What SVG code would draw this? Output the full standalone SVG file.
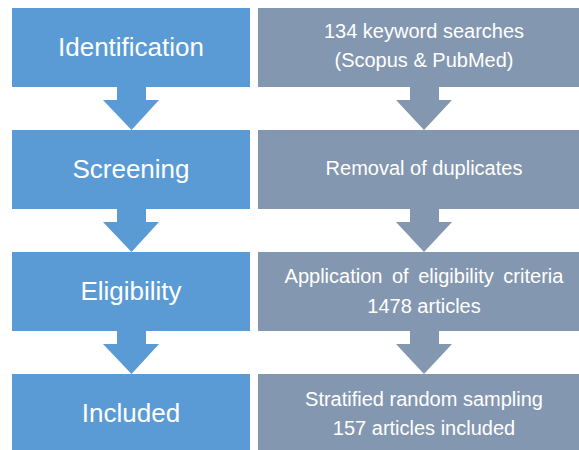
<svg xmlns="http://www.w3.org/2000/svg" width="579" height="450" viewBox="0 0 579 450">
<style>
.stage{fill:#5B9BD5}
.step{fill:#8497B0}
.lt{font-family:"Liberation Sans",Arial,sans-serif;font-size:26px;fill:#FFFFFF;text-anchor:middle}
.rt{font-family:"Liberation Sans",Arial,sans-serif;font-size:20px;fill:#FFFFFF;text-anchor:middle}
</style>
<rect width="579" height="450" fill="#FFFFFF"/>
<g id="connectors">
<polygon class="stage" points="117,87 146,87 146,100 159,100 131.5,130 103,100 117,100"/>
<polygon class="stage" points="117,209 146,209 146,222 159,222 131.5,252 103,222 117,222"/>
<polygon class="stage" points="117,331 146,331 146,344 159,344 131.5,374 103,344 117,344"/>
<polygon class="step" points="410,87 439,87 439,100 452,100 424,130 396,100 410,100"/>
<polygon class="step" points="410,209 439,209 439,222 452,222 424,252 396,222 410,222"/>
<polygon class="step" points="410,331 439,331 439,344 452,344 424,374 396,344 410,344"/>
</g>
<g id="identification">
<rect class="stage" x="12" y="8" width="238" height="79"/>
<text class="lt" x="131" y="56">Identification</text>
</g>
<g id="screening">
<rect class="stage" x="12" y="130" width="238" height="79"/>
<text class="lt" x="131" y="178">Screening</text>
</g>
<g id="eligibility">
<rect class="stage" x="12" y="252" width="238" height="79"/>
<text class="lt" x="131" y="300">Eligibility</text>
</g>
<g id="included">
<rect class="stage" x="12" y="374" width="238" height="79"/>
<text class="lt" x="131" y="422">Included</text>
</g>
<g id="searches">
<rect class="step" x="258" y="8" width="332" height="79"/>
<text class="rt" x="424" y="38">134 keyword searches</text>
<text class="rt" x="424" y="67">(Scopus &amp; PubMed)</text>
</g>
<g id="duplicates">
<rect class="step" x="258" y="130" width="332" height="79"/>
<text class="rt" x="424" y="175">Removal of duplicates</text>
</g>
<g id="criteria">
<rect class="step" x="258" y="252" width="332" height="79"/>
<text class="rt" x="424" y="283" word-spacing="4">Application of eligibility criteria</text>
<text class="rt" x="424" y="313">1478 articles</text>
</g>
<g id="sampling">
<rect class="step" x="258" y="374" width="332" height="79"/>
<text class="rt" x="424" y="406">Stratified random sampling</text>
<text class="rt" x="424" y="435">157 articles included</text>
</g>
</svg>
